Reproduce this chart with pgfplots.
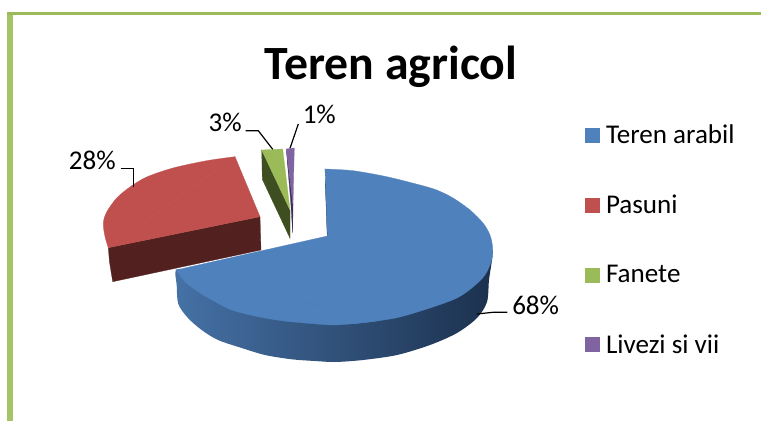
\documentclass[border=0pt]{standalone}
\usepackage{pgfplots}
\pgfplotsset{compat=1.18}
\usepackage{fontspec}
\setmainfont{Carlito}
\definecolor{cBlue}{HTML}{4F81BD}
\definecolor{cRed}{HTML}{C0504D}
\definecolor{cGreen}{HTML}{9BBB59}
\definecolor{cPurple}{HTML}{8064A2}
\definecolor{dRed}{HTML}{52211F}
\definecolor{dGreen}{HTML}{3F4E20}
\definecolor{dPurple}{HTML}{3C2F58}
\definecolor{dBlue}{HTML}{1C314E}
\definecolor{borderL}{HTML}{A5C468}
\pgfplotsset{
  sw/.style={legend image code/.code={\fill[##1,draw=none] (0pt,-5.6pt) rectangle (11.25pt,5.6pt);}}
}
\begin{document}
\begin{tikzpicture}
\begin{axis}[
  scale only axis, width=570.75pt, height=315.75pt,
  xmin=0, xmax=761, ymin=0, ymax=421, y dir=reverse,
  hide axis, clip=true,
  font=\fontsize{20.3}{24}\selectfont,
  title={\textbf{Teren agricol}},
  title style={at={(axis cs:391,79)},anchor=base,yshift=-6pt,font=\fontsize{35.8}{40}\selectfont},
  legend style={draw=none,fill=none,at={(axis cs:585,122)},anchor=north west,
    row sep=33.3pt,inner sep=0pt,outer sep=0pt,font=\fontsize{20.3}{24}\selectfont,
    legend cell align=left,/tikz/every odd column/.append style={column sep=2.5pt}},
]
% page extent
\addplot[forget plot,draw=none] coordinates {(0,0) (761,421)};
\path (axis cs:0,0) -- (axis cs:761,421);
% frame
\addplot[forget plot,fill=borderL,draw=none] coordinates {(7.3,12) (12.7,12) (12.7,421) (7.3,421)} --cycle;
\addplot[forget plot,fill=cGreen,draw=none] coordinates {(7.3,12) (761,12) (761,15) (7.3,15)} --cycle;
% red slice (28%)
\addplot[forget plot,fill=dRed,draw=dRed,line width=.2pt] coordinates {(108.3,247.7) (109.5,262) (112.7,281.7) (261,250) (260,216.7)} --cycle;
\addplot[forget plot,fill=cRed,draw=cRed,line width=.2pt] coordinates {(235,156.7) (260,216.7) (108.3,247.7)} --cycle;
\addplot[forget plot,fill=cRed,draw=cRed,line width=.2pt,smooth,tension=.5] coordinates {(235,156.7) (206.7,160.7) (173,168) (146.7,177) (130,187) (116.7,198) (106.7,212) (103.3,223) (105,236.7) (108.3,247.7)} --cycle;
% green slice (3%)
\addplot[forget plot,fill=dGreen,draw=dGreen,line width=.2pt] coordinates {(261.7,150) (262.3,179.3) (290,238.3) (290,210)} --cycle;
\addplot[forget plot,fill=cGreen,draw=cGreen,line width=.2pt] coordinates {(261.7,150) (282.7,149) (290,210)} --cycle;
% purple slice (1%)
\addplot[forget plot,fill=dPurple,draw=dPurple,line width=.2pt] coordinates {(286.3,149) (290.7,201.7) (292.7,233) (293,205)} --cycle;
\addplot[forget plot,fill=cPurple,draw=cPurple,line width=.2pt] coordinates {(286.3,149) (294.3,148) (293,205)} --cycle;
% blue slice (68%): side wall
\addplot[forget plot,draw=none,left color=cBlue!88!black,middle color=cBlue!55!black,right color=dBlue,smooth,tension=.5] coordinates {
 (492.7,250) (492,260) (489,280) (487,302) (477,318) (457,333) (430,345) (397,355) (363,360) (335,362) (315,361) (291.7,359.3) (265,355) (241.7,348) (218,340) (201.7,330) (188,318) (178.3,304) (176.7,285) (176,270) (190,270)} --cycle;
% blue slice: inner wall sliver
\addplot[forget plot,fill=dBlue,draw=dBlue,line width=.2pt] coordinates {(325.2,180) (327.2,236) (329,236) (326.2,190)} --cycle;
% blue slice: top face
\addplot[forget plot,fill=cBlue,draw=cBlue,line width=.2pt] coordinates {(325,169) (327.4,236) (327,318) (370,318)} --cycle;
\addplot[forget plot,fill=cBlue,draw=cBlue,line width=.2pt] coordinates {(176,270) (327.4,236) (370,318)} --cycle;
\addplot[forget plot,fill=cBlue,draw=cBlue,line width=.2pt,smooth,tension=.5] coordinates {
 (325,169) (353,170.7) (386.7,176.7) (420,185) (436.7,190) (453,198) (470,210) (483,223) (490,235) (492.7,248) (491.7,260) (485,275) (473,287) (457,298) (430,308) (397,317.7) (363,322.7) (345,324)} --cycle;
\addplot[forget plot,fill=cBlue,draw=cBlue,line width=.2pt,smooth,tension=.5] coordinates {
 (380,320.5) (363,322.7) (335,325) (308,323.3) (281.7,320.7) (258,316.7) (231.7,310) (215,301.7) (198,291.7) (185,281.7) (176,270)} --cycle;
% leaders
\addplot[forget plot,black,line width=.9pt] coordinates {(120.7,168.3) (133.3,168.3) (133.3,187)};
\addplot[forget plot,black,line width=.9pt] coordinates {(245.7,130.7) (258.3,130.7) (272.7,149.3)};
\addplot[forget plot,black,line width=.9pt] coordinates {(298.3,124) (290,148.3)};
\addplot[forget plot,black,line width=.9pt] coordinates {(507.3,312.3) (493,312.3) (476.7,314)};
% data labels
\node[anchor=base east,inner sep=0pt] at (axis cs:116,169) {28\%};
\node[anchor=base east,inner sep=0pt] at (axis cs:242,131) {3\%};
\node[anchor=base west,inner sep=0pt] at (axis cs:302.5,123) {1\%};
\node[anchor=base west,inner sep=0pt] at (axis cs:512,314) {68\%};
% legend
\addlegendimage{sw,fill=cBlue}\addlegendentry{Teren arabil}
\addlegendimage{sw,fill=cRed}\addlegendentry{Pasuni}
\addlegendimage{sw,fill=cGreen}\addlegendentry{Fanete}
\addlegendimage{sw,fill=cPurple}\addlegendentry{Livezi si vii}
\end{axis}
\end{tikzpicture}
\end{document}
